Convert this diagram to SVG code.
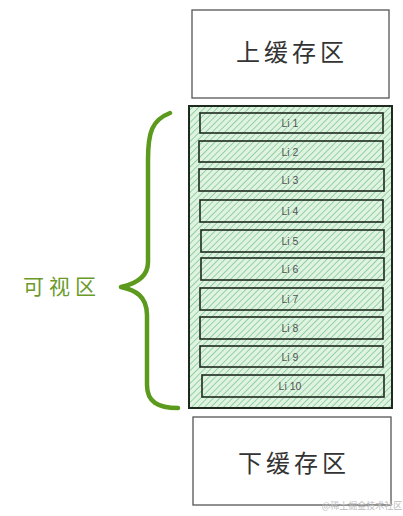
<svg xmlns="http://www.w3.org/2000/svg" width="403" height="516" viewBox="0 0 403 516">
<style>
.box{fill:#fff;stroke:#555;stroke-width:1.3}
.big{font-family:"Noto Sans CJK SC","Liberation Sans",sans-serif;font-size:24px;fill:#333;text-anchor:middle;letter-spacing:4px}
.li{fill:url(#hatch);stroke:#1e2a1e;stroke-width:1.6}
.lt{font-family:"Liberation Sans",sans-serif;font-size:10.5px;fill:#555;text-anchor:middle}
</style>
<defs>
<pattern id="hatch" patternUnits="userSpaceOnUse" width="4.5" height="4.5" patternTransform="rotate(45)">
<rect width="4.5" height="4.5" fill="#e0f3e3"/>
<line x1="0" y1="0" x2="0" y2="4.5" stroke="#8ccf99" stroke-width="1.8"/>
</pattern>
</defs>
<g id="top-cache">
<rect class="box" x="192" y="10" width="197" height="88"/>
<text class="big" x="292" y="61">上缓存区</text>
</g>
<g id="viewport">
<rect x="189" y="106" width="203" height="302" fill="url(#hatch)" stroke="#1e2a1e" stroke-width="2"/>
</g>
<g id="li1"><rect class="li" x="200" y="113" width="183" height="20"/><text class="lt" x="290" y="127">Li 1</text></g>
<g id="li2"><rect class="li" x="199" y="141" width="184" height="21"/><text class="lt" x="290" y="156">Li 2</text></g>
<g id="li3"><rect class="li" x="199" y="169" width="185" height="22"/><text class="lt" x="290" y="184">Li 3</text></g>
<g id="li4"><rect class="li" x="200" y="200" width="183" height="22"/><text class="lt" x="290" y="215">Li 4</text></g>
<g id="li5"><rect class="li" x="201" y="230" width="183" height="22"/><text class="lt" x="290" y="245">Li 5</text></g>
<g id="li6"><rect class="li" x="201" y="258" width="183" height="22"/><text class="lt" x="290" y="273">Li 6</text></g>
<g id="li7"><rect class="li" x="200" y="288" width="183" height="22"/><text class="lt" x="290" y="303">Li 7</text></g>
<g id="li8"><rect class="li" x="200" y="317" width="183" height="22"/><text class="lt" x="290" y="332">Li 8</text></g>
<g id="li9"><rect class="li" x="200" y="346" width="183" height="21"/><text class="lt" x="290" y="361">Li 9</text></g>
<g id="li10"><rect class="li" x="202" y="375" width="182" height="22"/><text class="lt" x="290" y="390">Li 10</text></g>
<g id="bottom-cache">
<rect class="box" x="193" y="417" width="198" height="88"/>
<text class="big" x="294" y="472">下缓存区</text>
</g>
<g id="connectors">
<path d="M170 113 C 152 120, 148 132, 148 160 L 148 262 C 148 278, 135 284, 121 287 C 135 290, 147 296, 147 315 L 147 385 C 147 402, 158 408, 178 408" fill="none" stroke="#5b9a1c" stroke-width="4.5" stroke-linecap="round" stroke-linejoin="round"/>
</g>
<g id="label">
<text x="62" y="294" font-family="Noto Sans CJK SC,Liberation Sans,sans-serif" font-size="21" fill="#6a9a2a" text-anchor="middle" letter-spacing="5">可视区</text>
</g>
<text x="362" y="509" font-family="Noto Sans CJK SC,Liberation Sans,sans-serif" font-size="9" fill="#bbb" text-anchor="middle">@稀土掘金技术社区</text>
</svg>
